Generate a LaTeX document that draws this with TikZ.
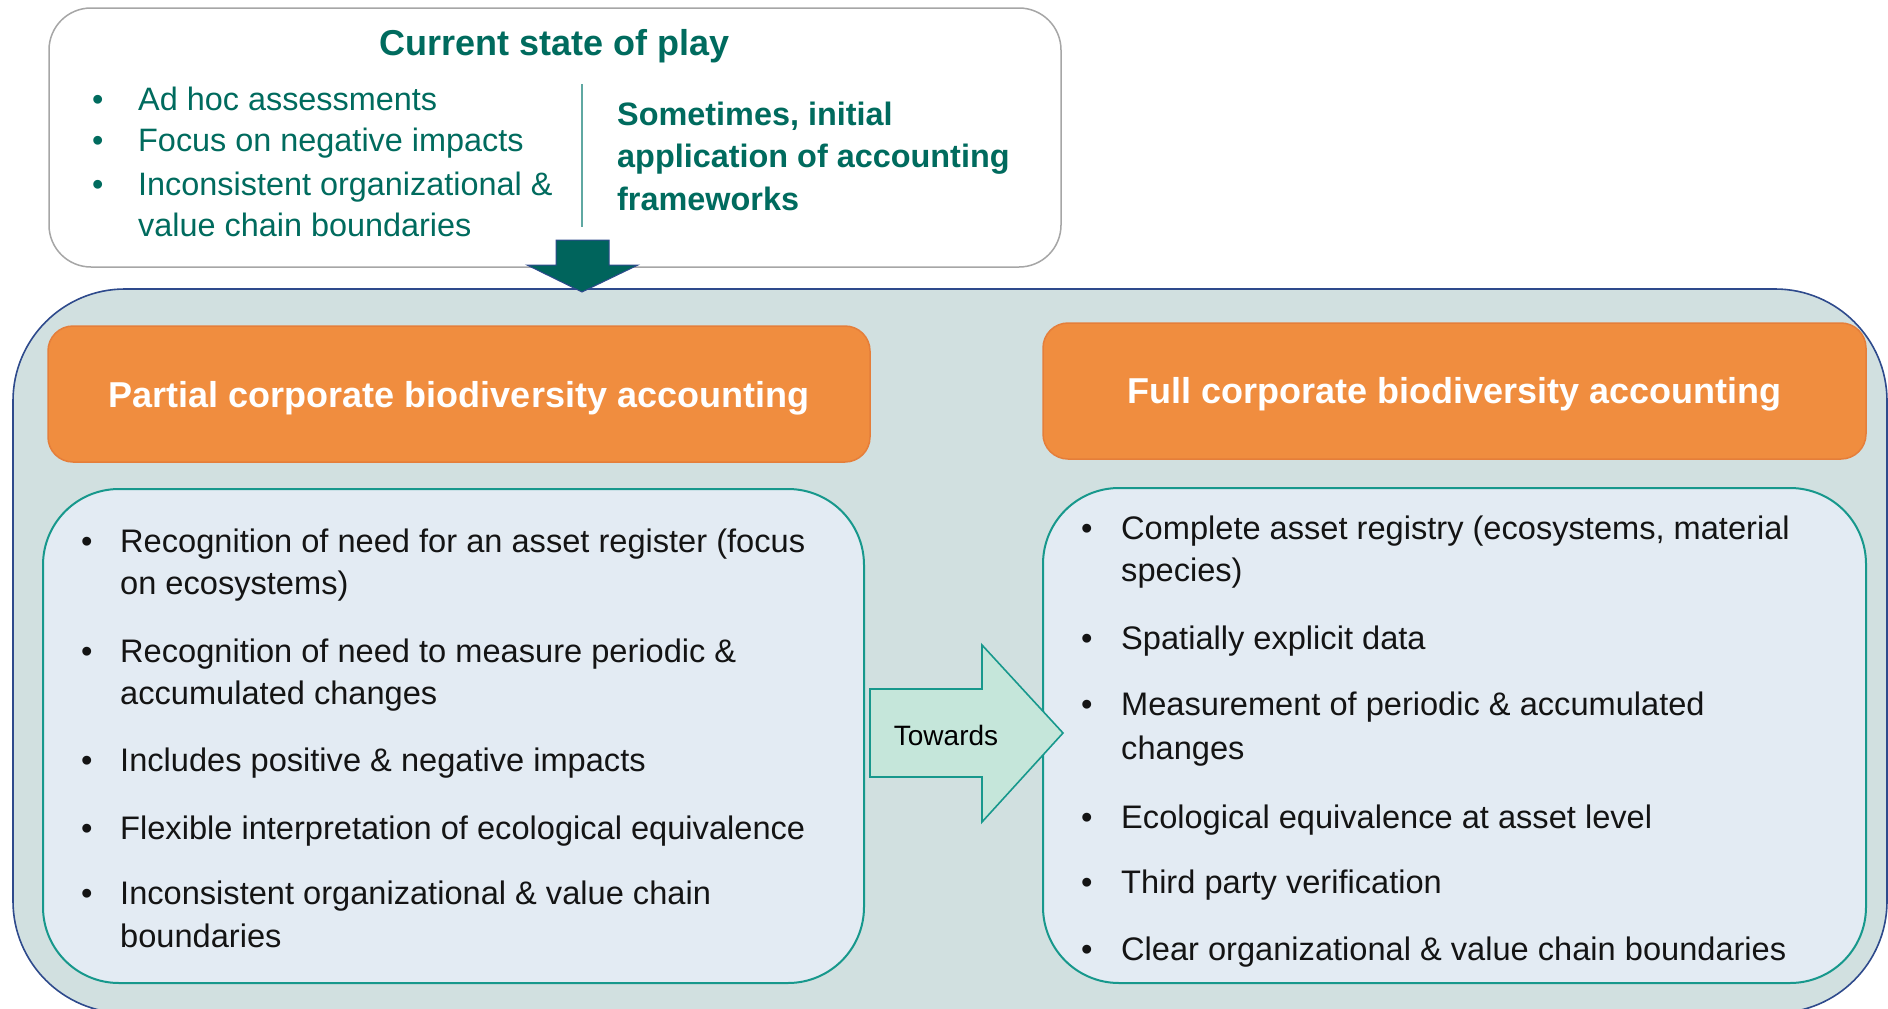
\documentclass[tikz,border=0pt]{standalone}
\usepackage{fontspec}
\setmainfont{Liberation Sans}
\definecolor{tealtxt}{HTML}{006B5E}
\definecolor{outerfill}{HTML}{D1E0E0}
\definecolor{outerline}{HTML}{2E4A8C}
\definecolor{innerfill}{HTML}{E3EBF3}
\definecolor{innerline}{HTML}{17988C}
\definecolor{orangefill}{HTML}{F08D3F}
\definecolor{orangeline}{HTML}{E57E3A}
\definecolor{topline}{HTML}{A6A6A6}
\definecolor{divline}{HTML}{5FA8A2}
\definecolor{downfill}{HTML}{00645C}
\definecolor{towfill}{HTML}{C5E6DA}
\begin{document}
\begin{tikzpicture}[x=1pt,y=-1pt,
  boxbase/.style={inner sep=0pt, outer sep=0pt, anchor=north west},
  topbox/.style={boxbase, draw=topline, line width=1.5pt, fill=white, rounded corners=42pt},
  outerbox/.style={boxbase, draw=outerline, line width=1.6pt, fill=outerfill, rounded corners=112pt},
  headbox/.style={boxbase, draw=orangeline, line width=1.5pt, fill=orangefill, rounded corners=25pt},
  listbox/.style={boxbase, draw=innerline, line width=2pt, fill=innerfill, rounded corners=76pt},
  headtxt/.style={text=white, font=\fontsize{36}{40}\bfseries\selectfont, inner sep=0pt},
  toptxt/.style={anchor=base west, inner sep=0pt, text=tealtxt, font=\fontsize{32.4}{40}\selectfont},
  topbold/.style={toptxt, font=\fontsize{32.4}{40}\bfseries\selectfont},
  bodytxt/.style={anchor=base west, inner sep=0pt, text=black!92, font=\fontsize{32.6}{40}\selectfont},
]
\useasboundingbox (0,0) rectangle (1888,1009);
\clip (0,0) rectangle (1888,1009);
\fill[white] (0,0) rectangle (1888,1009);

% top box
\node[topbox, minimum width=1012pt, minimum height=259pt] (top) at (49,8) {};
\node[topbold, font=\fontsize{36}{40}\bfseries\selectfont, anchor=base] (title) at (555,55) {Current state of play};
\node[toptxt] (tb1) at (92,110) {•};
\node[toptxt] (t1) at (138,110) {Ad hoc assessments};
\node[toptxt] (tb2) at (92,151) {•};
\node[toptxt] (t2) at (138,151) {Focus on negative impacts};
\node[toptxt] (tb3) at (92,195) {•};
\node[toptxt] (t3a) at (138,195) {Inconsistent organizational \&};
\node[toptxt] (t3b) at (138,236) {value chain boundaries};
\coordinate (divtop) at (582,84);
\coordinate (divbot) at (582,227);
\draw[divline, line width=1.3pt] (divtop) -- (divbot);
\node[topbold] (s1) at (617,125) {Sometimes, initial};
\node[topbold] (s2) at (617,167) {application of accounting};
\node[topbold] (s3) at (617,210) {frameworks};

% outer box
\node[outerbox, minimum width=1874pt, minimum height=724pt] (outer) at (13,289) {};

% down arrow
\draw[fill=downfill, draw=outerline, line width=1pt]
  (556,240) -- (609,240) -- (609,265) -- (638,265) -- (582,292) -- (527,265) -- (556,265) -- cycle;

% headers
\node[headbox, minimum width=822pt, minimum height=136pt] (hl) at (48,326) {};
\node[headtxt] (hlt) at ([yshift=-4pt]hl.center) {Partial corporate biodiversity accounting};
\node[headbox, minimum width=823pt, minimum height=136pt] (hr) at (1043,323) {};
\node[headtxt] (hrt) at ([yshift=-3pt]hr.center) {Full corporate biodiversity accounting};

% list boxes
\node[listbox, minimum width=821pt, minimum height=494pt] (ll) at (43,489) {};
\node[listbox, minimum width=823pt, minimum height=495pt] (lr) at (1043,488) {};

% left list
\node[bodytxt] (lb1) at (81,552) {•};
\node[bodytxt] (l1a) at (120,552) {Recognition of need for an asset register (focus};
\node[bodytxt] (l1b) at (120,594) {on ecosystems)};
\node[bodytxt] (lb2) at (81,662) {•};
\node[bodytxt] (l2a) at (120,662) {Recognition of need to measure periodic \&};
\node[bodytxt] (l2b) at (120,704) {accumulated changes};
\node[bodytxt] (lb3) at (81,771) {•};
\node[bodytxt] (l3) at (120,771) {Includes positive \& negative impacts};
\node[bodytxt] (lb4) at (81,839) {•};
\node[bodytxt] (l4) at (120,839) {Flexible interpretation of ecological equivalence};
\node[bodytxt] (lb5) at (81,904) {•};
\node[bodytxt] (l5a) at (120,904) {Inconsistent organizational \& value chain};
\node[bodytxt] (l5b) at (120,947) {boundaries};

% right list
\node[bodytxt] (rb1) at (1081,539) {•};
\node[bodytxt] (r1a) at (1121,539) {Complete asset registry (ecosystems, material};
\node[bodytxt] (r1b) at (1121,581) {species)};
\node[bodytxt] (rb2) at (1081,649) {•};
\node[bodytxt] (r2) at (1121,649) {Spatially explicit data};
\node[bodytxt] (rb3) at (1081,715) {•};
\node[bodytxt] (r3a) at (1121,715) {Measurement of periodic \& accumulated};
\node[bodytxt] (r3b) at (1121,759) {changes};
\node[bodytxt] (rb4) at (1081,828) {•};
\node[bodytxt] (r4) at (1121,828) {Ecological equivalence at asset level};
\node[bodytxt] (rb5) at (1081,893) {•};
\node[bodytxt] (r5) at (1121,893) {Third party verification};
\node[bodytxt] (rb6) at (1081,960) {•};
\node[bodytxt] (r6) at (1121,960) {Clear organizational \& value chain boundaries};

% towards arrow
\draw[fill=towfill, draw=innerline, line width=1.6pt]
  (870,689) -- (982,689) -- (982,645) -- (1063,733) -- (982,822) -- (982,777) -- (870,777) -- cycle;
\node[inner sep=0pt, font=\fontsize{28}{32}\selectfont, text=black] (tow) at (946,735) {Towards};
\end{tikzpicture}
\end{document}
